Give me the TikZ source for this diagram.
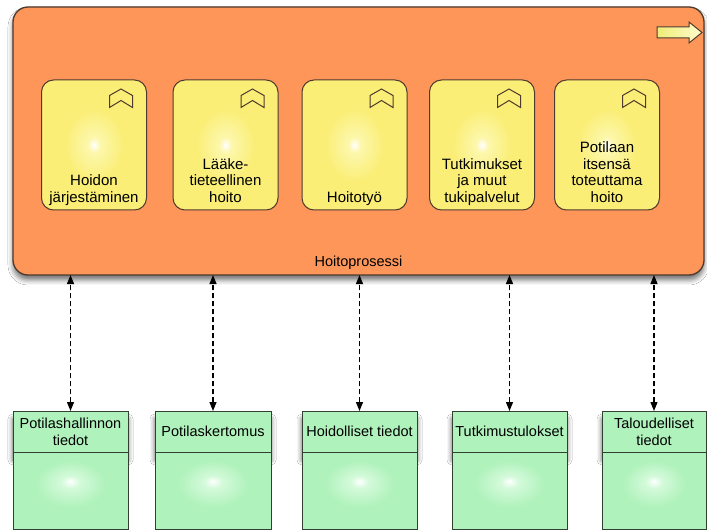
\documentclass[tikz,border=0pt]{standalone}
\usepackage{fontspec}
\setmainfont{Liberation Sans}
\usetikzlibrary{arrows.meta,shadows.blur}

\definecolor{procfill}{RGB}{253,150,88}
\definecolor{procline}{RGB}{78,58,46}
\definecolor{ylw}{RGB}{250,238,118}
\definecolor{ylwmid}{RGB}{253,247,172}
\definecolor{grn}{RGB}{176,242,188}
\definecolor{grnmid}{RGB}{212,250,218}
\definecolor{grnline}{RGB}{50,64,52}
\definecolor{arrowL}{RGB}{238,236,120}
\definecolor{arrowR}{RGB}{255,252,205}

% soft glows in the middle of the function and data boxes
\pgfdeclareradialshading{yglow}{\pgfpoint{0bp}{0bp}}{color(0bp)=(white); color(3bp)=(ylwmid); color(14bp)=(ylw); color(50bp)=(ylw)}
\pgfdeclareradialshading{gglow}{\pgfpoint{0bp}{6bp}}{color(0bp)=(white); color(4bp)=(grnmid); color(15bp)=(grn); color(50bp)=(grn)}

\tikzset{
  proc/.style={draw=procline, line width=1.3pt, fill=procfill, rounded corners=15pt,
    minimum width=691pt, minimum height=268pt, inner sep=0pt, outer sep=0pt,
    blur shadow={shadow xshift=0pt, shadow yshift=-5pt, shadow blur radius=5pt, shadow opacity=55}},
  func/.style={draw=procline, line width=1pt, shade, shading=yglow, rounded corners=12pt,
    minimum width=105pt, minimum height=130pt, inner sep=0pt, outer sep=0pt},
  ftext/.style={align=center, font=\fontsize{15}{16.7}\selectfont, inner sep=0pt,
    text depth=4pt, anchor=south},
  ghead/.style={draw=grnline, line width=1pt, fill=grn, minimum height=41pt,
    inner sep=0pt, outer sep=0pt, align=center, font=\fontsize{14.5}{17}\selectfont,
    blur shadow={shadow xshift=0pt, shadow yshift=-8pt, shadow blur radius=5pt, shadow opacity=65}},
  gbody/.style={draw=grnline, line width=1pt, shade, shading=gglow, minimum height=77pt,
    inner sep=0pt, outer sep=0pt, anchor=north},
  lbl/.style={font=\fontsize{14.5}{17}\selectfont, inner sep=0pt, anchor=base},
  dep/.style={line width=1.2pt, dash pattern=on 5pt off 3pt,
    {Triangle[length=9pt,width=7pt]}-{Triangle[length=9pt,width=7pt]}},
  chevron/.pic={\draw[procline, line width=1pt, line join=miter]
    (0,0) -- (11.5,6.5) -- (23,0) -- (23,-12) -- (11.5,-5) -- (0,-12) -- cycle;}
}

\begin{document}
\begin{tikzpicture}[x=1pt,y=1pt]
\useasboundingbox[fill=white] (0,0) rectangle (707,531);

% the care process
\node[proc] (p) at (358.5,390) {};
\node[lbl] (pl) at ([yshift=8.3pt]p.south) {Hoitoprosessi};

% process arrow icon
\begin{scope}[shift={(p.north east)}]
  \draw[procline, line width=1pt, left color=arrowL, right color=arrowR, line join=miter]
    (-47,-31) -- (-15,-31) -- (-15,-36) -- (-2,-25.5) -- (-15,-15) -- (-15,-20) -- (-47,-20) -- cycle;
\end{scope}

% functions within the process
\node[func] (f1) at (94,386) {};
\node[func] (f2) at (225.5,386) {};
\node[func] (f3) at (354.5,386) {};
\node[func] (f4) at (482,386) {};
\node[func] (f5) at (607,386) {};

\foreach \f in {f1,f2,f3,f4,f5}
  \pic at ([shift={(-37pt,-15.5pt)}]\f.north east) {chevron};

\node[ftext] (t1) at ([yshift=3.3pt]f1.south) {Hoidon\\järjestäminen};
\node[ftext] (t2) at ([yshift=3.3pt]f2.south) {Lääke-\\tieteellinen\\hoito};
\node[ftext] (t3) at ([yshift=3.3pt]f3.south) {Hoitotyö};
\node[ftext] (t4) at ([yshift=3.3pt]f4.south) {Tutkimukset\\ja muut\\tukipalvelut};
\node[ftext] (t5) at ([yshift=3.3pt]f5.south) {Potilaan\\itsensä\\toteuttama\\hoito};

% data objects
\node[ghead, minimum width=115pt] (h1) at (70.5,99.5) {Potilashallinnon\\tiedot};
\node[gbody, minimum width=115pt] (b1) at (h1.south) {};
\node[ghead, minimum width=116pt] (h2) at (213,99.5) {Potilaskertomus};
\node[gbody, minimum width=116pt] (b2) at (h2.south) {};
\node[ghead, minimum width=115pt] (h3) at (359.5,99.5) {Hoidolliset tiedot};
\node[gbody, minimum width=115pt] (b3) at (h3.south) {};
\node[ghead, minimum width=115pt] (h4) at (509.5,99.5) {Tutkimustulokset};
\node[gbody, minimum width=115pt] (b4) at (h4.south) {};
\node[ghead, minimum width=104pt] (h5) at (654,99.5) {Taloudelliset\\tiedot};
\node[gbody, minimum width=104pt] (b5) at (h5.south) {};

% access relations
\foreach \h in {h1,h2,h3,h4,h5}
  \draw[dep] (\h.north) -- (\h.north |- p.south);
\end{tikzpicture}
\end{document}
